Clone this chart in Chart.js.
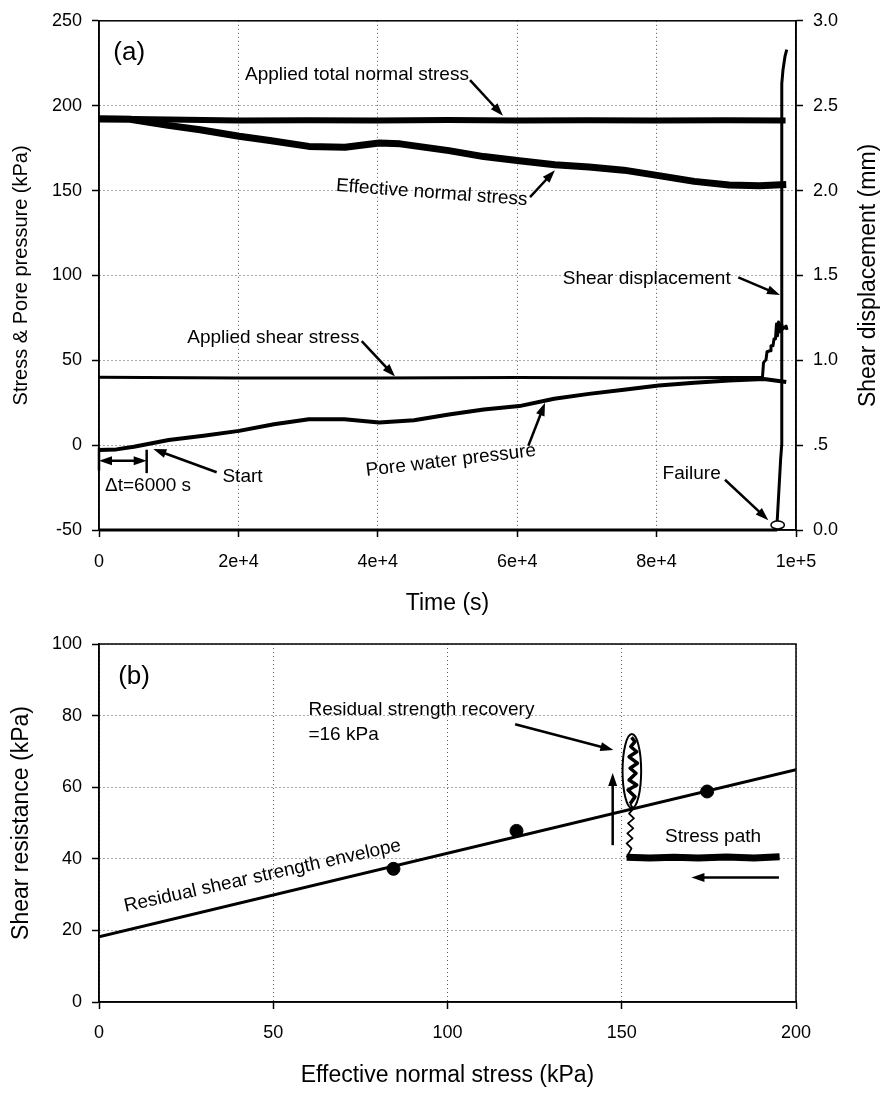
<!DOCTYPE html>
<html>
<head>
<meta charset="utf-8">
<script src="https://cdn.jsdelivr.net/npm/chart.js@4.4.1/dist/chart.umd.min.js"></script>
<style>
  html, body { margin: 0; padding: 0; background: #fff; }
  #wrap { position: relative; width: 885px; height: 1093px; }
  #chartA { position: absolute; left: 0; top: 0; }
  #chartB { position: absolute; left: 0; top: 620px; }
</style>
</head>
<body>
<div id="wrap">
  <canvas id="chartA" width="885" height="620"></canvas>
  <canvas id="chartB" width="885" height="473"></canvas>
</div>
<script>
// ---------- (a) time history ----------
const timeTickLabels = ['0', '2e+4', '4e+4', '6e+4', '8e+4', '1e+5'];
const dispTickLabels = ['0.0', '.5', '1.0', '1.5', '2.0', '2.5', '3.0'];

const tTotal = [0, 5000, 10000, 20000, 30000, 40000, 50000, 60000, 70000, 80000, 90000, 98500];
const totalNormal = [192.5, 192.2, 191.8, 191.3, 191.4, 191.2, 191.5, 191.3, 191.4, 191.2, 191.4, 191.3];

const tEff = [0, 4450, 9900, 14500, 20100, 24500, 30100, 35300, 40200, 43200, 50200, 55200,
              60300, 65400, 70300, 75300, 80300, 85400, 90400, 94800, 98600];
const effNormal = [192.2, 192, 188.4, 185.8, 182, 179.5, 176, 175.5, 178, 177.5, 173.5, 170,
                   167.6, 165.2, 163.8, 162, 158.8, 155.4, 153.3, 152.8, 153.5];

const tShear = [0, 20000, 40000, 60000, 80000, 95190, 95340, 95700, 95840, 96270, 96410, 96700,
                96840, 97060, 97200, 97350, 97490, 97780, 97920, 98130, 98570, 98710];
const shearStress = [40, 39.6, 39.5, 39.8, 39.6, 40, 48.6, 50.4, 55, 55.6, 58.5, 58.5,
                     62.6, 62.6, 71.4, 64.4, 72.6, 66.7, 71.4, 68.5, 70.2, 67.9];

const tPore = [0, 2500, 5000, 10000, 15000, 20100, 25100, 30100, 35200, 40200, 45200, 50200,
               55200, 60300, 65300, 70300, 75300, 80300, 85400, 90400, 95400, 98600];
const porePressure = [-2.8, -2.5, -1, 3, 5.5, 8.4, 12.3, 15.2, 15.2, 13.3, 14.7, 18,
                      21, 23, 27.3, 30.2, 32.6, 35.1, 36.7, 38.1, 39, 37.2];

const tDisp = [0, 97230, 97800, 97950, 97960, 98130, 98420, 98670];
const shearDisp = [0, 0, 0.42, 0.5, 2.63, 2.71, 2.79, 2.83];

// ---------- (b) stress path ----------
const envX = [0, 200];
const envY = [18.2, 64.9];
const testX = [84.5, 119.8, 174.5];
const testY = [37.2, 47.8, 58.8];
const pathX = [195.3, 188, 180, 172, 165, 158, 151.4];
const pathY = [40.6, 40.2, 40.5, 40.2, 40.4, 40.2, 40.4];
const riseX = [151.4, 152.8, 151.4, 153.1, 151.6, 153.3, 151.8, 153.5, 152.1, 153.3, 152.4,
               153.8, 151.8, 154.3, 152.1, 154.1, 152.4, 154.5, 152.1, 154.3, 152.6, 153.8, 152.8];
const riseY = [40.4, 42.9, 44.3, 45.7, 47.1, 48.5, 49.9, 51.3, 52.6, 54.0, 55.4,
               57.3, 59.2, 60.6, 62.0, 63.9, 65.3, 66.7, 68.5, 69.9, 71.3, 72.7, 73.9];

const FONT = "'Liberation Sans', Arial, Helvetica, sans-serif";
Chart.defaults.font.family = FONT;
Chart.defaults.color = '#000';
Chart.defaults.animation = false;

const pts = (xs, ys) => xs.map((x, i) => ({ x: x, y: ys[i] }));

function drawHead(ctx, x, y, ang) {
  const len = 13, half = 4.5;
  ctx.beginPath();
  ctx.moveTo(x, y);
  ctx.lineTo(x - len * Math.cos(ang) + half * Math.sin(ang), y - len * Math.sin(ang) - half * Math.cos(ang));
  ctx.lineTo(x - len * Math.cos(ang) - half * Math.sin(ang), y - len * Math.sin(ang) + half * Math.cos(ang));
  ctx.closePath();
  ctx.fill();
}

function drawArrow(ctx, x1, y1, x2, y2, both) {
  const ang = Math.atan2(y2 - y1, x2 - x1);
  const cut = 10;
  ctx.lineWidth = 2.5;
  ctx.beginPath();
  ctx.moveTo(both ? x1 + cut * Math.cos(ang) : x1, both ? y1 + cut * Math.sin(ang) : y1);
  ctx.lineTo(x2 - cut * Math.cos(ang), y2 - cut * Math.sin(ang));
  ctx.stroke();
  drawHead(ctx, x2, y2, ang);
  if (both) drawHead(ctx, x1, y1, ang + Math.PI);
}

// labels, arrows and frame drawn on top of the datasets
// (kept in a closure so Chart.js does not resolve the config)
function notesPlugin(cfg) {
  return {
    id: 'notes',
    afterDatasetsDraw(chart) {
      const ctx = chart.ctx, a = chart.chartArea;
      const P = (p) => [chart.scales.x.getPixelForValue(p[0]), chart.scales[p[2] || 'y'].getPixelForValue(p[1])];
      ctx.save();
      ctx.strokeStyle = '#000';
      ctx.fillStyle = '#000';
      ctx.lineWidth = 1.5;
      ctx.strokeRect(a.left, a.top, a.right - a.left, a.bottom - a.top);

      (cfg.lines || []).forEach(l => {
        const p1 = P(l[0]), p2 = P(l[1]);
        ctx.lineWidth = 2.5;
        ctx.beginPath();
        ctx.moveTo(p1[0], p1[1]);
        ctx.lineTo(p2[0], p2[1]);
        ctx.stroke();
      });
      (cfg.arrows || []).forEach(ar => {
        const p1 = P(ar.from), p2 = P(ar.to);
        drawArrow(ctx, p1[0], p1[1], p2[0], p2[1], ar.both);
      });
      (cfg.ellipses || []).forEach(e => {
        const c = P(e.at);
        ctx.beginPath();
        ctx.ellipse(c[0], c[1], e.rx, e.ry, 0, 0, Math.PI * 2);
        if (e.fill) {
          ctx.fillStyle = e.fill;
          ctx.fill();
          ctx.fillStyle = '#000';
        }
        ctx.lineWidth = e.lw || 1.5;
        ctx.stroke();
      });
      (cfg.labels || []).forEach(l => {
        const p = P([l.x, l.y]);
        ctx.save();
        ctx.translate(p[0], p[1]);
        ctx.rotate((l.rot || 0) * Math.PI / 180);
        ctx.font = (l.size || 19) + 'px ' + FONT;
        ctx.textAlign = l.align || 'left';
        ctx.textBaseline = 'middle';
        ctx.fillText(l.text, 0, 0);
        ctx.restore();
      });
      if (cfg.sideTitle) {
        ctx.save();
        ctx.translate(cfg.sideTitle.x, (a.top + a.bottom) / 2);
        ctx.rotate(-Math.PI / 2);
        ctx.font = cfg.sideTitle.size + 'px ' + FONT;
        ctx.textAlign = 'center';
        ctx.textBaseline = 'middle';
        ctx.fillText(cfg.sideTitle.text, 0, 0);
        ctx.restore();
      }
      ctx.restore();
    }
  };
}

const grid = { color: '#555', lineWidth: 1, tickLength: 7, tickColor: '#000', tickWidth: 1.5, tickBorderDash: [] };
const border = { color: '#000', width: 1.5, dash: [1, 3] };
const line = (data, w, axis) => ({
  data: data, showLine: true, borderColor: '#000', borderWidth: w, pointRadius: 0,
  tension: 0, yAxisID: axis || 'y', borderJoinStyle: 'round'
});

// ---------- chart (a) ----------
new Chart(document.getElementById('chartA'), {
  type: 'scatter',
  data: {
    datasets: [
      line(pts(tTotal, totalNormal), 6),
      line(pts(tEff, effNormal), 7),
      line(pts(tShear, shearStress), 3),
      line(pts(tPore, porePressure), 4),
      Object.assign(line(pts(tDisp, shearDisp), 3, 'y2'), { clip: 4 })
    ]
  },
  options: {
    responsive: false,
    layout: { padding: { top: 16, left: 0, right: 0, bottom: 0 } },
    plugins: { legend: { display: false }, tooltip: { enabled: false } },
    scales: {
      x: {
        type: 'linear', min: 0, max: 100000,
        afterFit: s => { s.height = 90; },
        grid: grid, border: border,
        ticks: { stepSize: 20000, autoSkip: false, maxRotation: 0, padding: 14, font: { size: 18 },
                 callback: (v, i) => timeTickLabels[i] },
        title: { display: true, text: 'Time (s)', font: { size: 23 }, padding: { top: 0, bottom: 3 } }
      },
      y: {
        type: 'linear', position: 'left', min: -50, max: 250,
        afterFit: s => { s.width = 99; },
        grid: grid, border: border,
        ticks: { stepSize: 50, padding: 10, font: { size: 18 } },
        title: { display: true, text: 'Stress & Pore pressure (kPa)', font: { size: 20 }, padding: { top: 9, bottom: 0 } }
      },
      y2: {
        type: 'linear', position: 'right', min: 0, max: 3,
        afterFit: s => { s.width = 89; },
        grid: Object.assign({}, grid, { drawOnChartArea: false }), border: border,
        ticks: { stepSize: 0.5, padding: 10, font: { size: 18 }, callback: (v, i) => dispTickLabels[i] }
      }
    }
  },
  plugins: [notesPlugin({
    labels: [
      { text: '(a)', x: 2050, y: 231, size: 26 },
      { text: 'Applied total normal stress', x: 20950, y: 218.5 },
      { text: 'Effective normal stress', x: 47730, y: 148.6, rot: 4.2, align: 'center' },
      { text: 'Shear displacement', x: 78580, y: 97.8, align: 'center' },
      { text: 'Applied shear stress', x: 25010, y: 63.2, align: 'center' },
      { text: 'Start', x: 20590, y: -18.9, align: 'center' },
      { text: 'Δt=6000 s', x: 860, y: -23.8 },
      { text: 'Pore water pressure', x: 50480, y: -9.2, rot: -6.8, align: 'center' },
      { text: 'Failure', x: 85030, y: -16.6, align: 'center' }
    ],
    arrows: [
      { from: [53230, 215], to: [57960, 194] },
      { from: [61840, 146.1], to: [65420, 162] },
      { from: [91720, 98.8], to: [97700, 88.5] },
      { from: [37690, 61.3], to: [42470, 40.4] },
      { from: [16880, -16], to: [7790, -2.3] },
      { from: [61600, -0.4], to: [63990, 24.9] },
      { from: [89810, -20.4], to: [96030, -44.2] },
      { from: [0, -9.2], to: [6840, -9.2], both: true }
    ],
    lines: [
      [[0, -1.4], [0, -15]],
      [[6840, -2.7], [6840, -16.5]]
    ],
    ellipses: [
      { at: [97370, 0.03, 'y2'], rx: 6.7, ry: 4, fill: '#fff', lw: 1.5 }
    ],
    sideTitle: { text: 'Shear displacement (mm)', x: 869, size: 23 }
  })]
});

// ---------- chart (b) ----------
new Chart(document.getElementById('chartB'), {
  type: 'scatter',
  data: {
    datasets: [
      line(pts(envX, envY), 3),
      { data: pts(testX, testY), showLine: false, pointRadius: 6.5, pointBackgroundColor: '#000', pointBorderColor: '#000' },
      line(pts(pathX, pathY), 7),
      Object.assign(line(pts(riseX, riseY), 2), {
        // the scribble inside the ellipse is much denser than the lower zigzag
        segment: { borderWidth: c => (c.p0.parsed.y > 55 ? 3.5 : 1.8) }
      })
    ]
  },
  options: {
    responsive: false,
    layout: { padding: { top: 24, left: 0, right: 89, bottom: 0 } },
    plugins: { legend: { display: false }, tooltip: { enabled: false } },
    scales: {
      x: {
        type: 'linear', min: 0, max: 200,
        afterFit: s => { s.height = 91; },
        grid: grid, border: border,
        ticks: { stepSize: 50, autoSkip: false, maxRotation: 0, padding: 13, font: { size: 18 } },
        title: { display: true, text: 'Effective normal stress (kPa)', font: { size: 23 }, padding: { top: 0, bottom: 4 } }
      },
      y: {
        type: 'linear', min: 0, max: 100,
        afterFit: s => { s.width = 99; },
        grid: grid, border: border,
        ticks: { stepSize: 20, padding: 10, font: { size: 18 } },
        title: { display: true, text: 'Shear resistance (kPa)', font: { size: 23 }, padding: { top: 8, bottom: 0 } }
      }
    }
  },
  plugins: [notesPlugin({
    labels: [
      { text: '(b)', x: 5.5, y: 90.8, size: 26 },
      { text: 'Residual strength recovery', x: 60.1, y: 81.5 },
      { text: '=16 kPa', x: 60.1, y: 74.7 },
      { text: 'Stress path', x: 162.4, y: 46.1 },
      { text: 'Residual shear strength envelope', x: 46.9, y: 35.2, rot: -12.5, align: 'center' }
    ],
    arrows: [
      { from: [119.4, 77.6], to: [147.6, 70.4] },
      { from: [147.4, 43.8], to: [147.4, 64.0] },
      { from: [195.1, 34.8], to: [170.0, 34.8] }
    ],
    ellipses: [
      { at: [152.9, 64.5], rx: 9.3, ry: 37, lw: 2 }
    ]
  })]
});
</script>
</body>
</html>
